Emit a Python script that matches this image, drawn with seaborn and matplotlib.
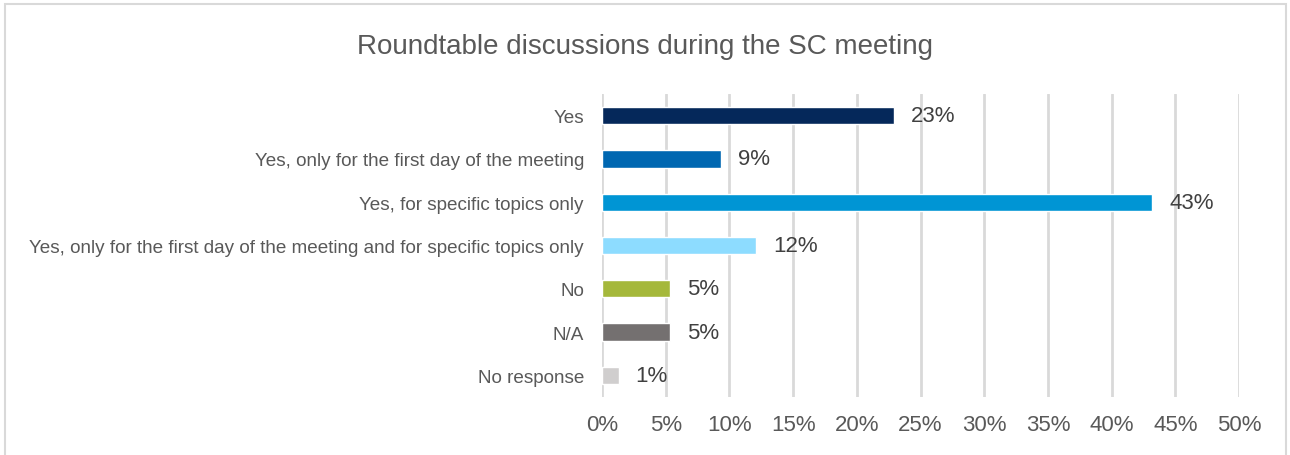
import pandas as pd
import seaborn as sns
import matplotlib.pyplot as plt
from matplotlib.patches import Rectangle

categories = [
    "Yes",
    "Yes, only for the first day of the meeting",
    "Yes, for specific topics only",
    "Yes, only for the first day of the meeting and for specific topics only",
    "No",
    "N/A",
    "No response",
]
values = [22.9, 9.3, 43.2, 12.1, 5.3, 5.3, 1.3]
labels = ["23%", "9%", "43%", "12%", "5%", "5%", "1%"]
colors = ["#05285a", "#0067b1", "#0095d4", "#8ddcff", "#a5b83b", "#747070", "#d0cece"]
ticks = list(range(0, 55, 5))

df = pd.DataFrame({"cat": categories, "val": values})

sns.set_theme(style="white")
plt.rcParams["font.family"] = ["Liberation Sans", "DejaVu Sans"]

fig = plt.figure(figsize=(12.9, 4.56), dpi=100)
ax = fig.add_axes([0.4667, 0.1272, 0.4938, 0.6645])

sns.barplot(data=df, x="val", y="cat", hue="cat", palette=colors,
            legend=False, width=0.4, ax=ax, saturation=1)

ax.set_xlim(0, 50)
ax.set_ylim(6.5, -0.5)
ax.set_xticks(ticks)
ax.set_xticklabels([f"{t}%" for t in ticks], fontsize=16, color="#595959")
ax.tick_params(axis="x", length=0, pad=12)
ax.tick_params(axis="y", length=0, pad=13, labelsize=13.6, labelcolor="#595959")
ax.set_xlabel("")
ax.set_ylabel("")
ax.grid(axis="x", color="#d9d9d9", linewidth=2)
ax.set_axisbelow(True)
for s in ax.spines.values():
    s.set_visible(False)

for i, (v, lab) in enumerate(zip(values, labels)):
    ax.annotate(lab, (v, i), xytext=(17, 0), textcoords="offset pixels",
                va="center", ha="left", fontsize=16, color="#404040")

fig.text(0.5, 0.898, "Roundtable discussions during the SC meeting", ha="center",
         va="center", fontsize=20, color="#595959")

fig.patches.append(Rectangle((0.004, -0.01), 0.993, 1.0, transform=fig.transFigure,
                             fill=False, edgecolor="#d9d9d9", linewidth=1.5))

fig.savefig("out.png", dpi=100)
